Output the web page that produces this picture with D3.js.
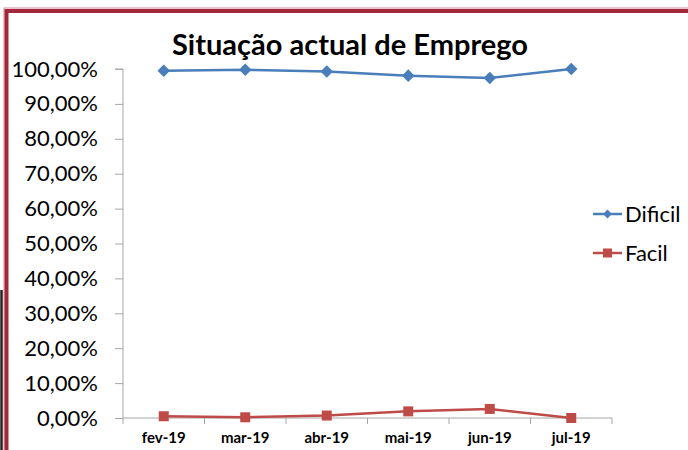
<!DOCTYPE html>
<html>
<head>
<meta charset="utf-8">
<script src="https://cdn.jsdelivr.net/npm/d3@7"></script>
<style>
  body { margin: 0; background: #fff; }
  svg { display: block; font-family: Lato, "Open Sans", sans-serif; }
</style>
</head>
<body>
<div id="chart"></div>
<script>
// data
var months = ["fev-19", "mar-19", "abr-19", "mai-19", "jun-19", "jul-19"];
var dificil = [0.995, 0.998, 0.993, 0.981, 0.974, 1.0];
var facil = [0.005, 0.002, 0.007, 0.019, 0.026, 0.0];
var yTicks = [0, 0.1, 0.2, 0.3, 0.4, 0.5, 0.6, 0.7, 0.8, 0.9, 1.0];
var seriesNames = ["Dificil", "Facil"];
var colors = ["#4a7ebb", "#be4b48"];

var W = 688, H = 450;
var svg = d3.select("#chart").append("svg")
    .attr("width", W)
    .attr("height", H);

// frame of the slide
svg.append("line").attr("x1", 1.5).attr("x2", 1.5).attr("y1", 290).attr("y2", H)
    .attr("stroke", "#222").attr("stroke-width", 2.5);
svg.append("rect").attr("x", 4).attr("y", 8).attr("width", W + 10).attr("height", H + 10)
    .attr("fill", "none").attr("stroke", "#d98a98").attr("stroke-width", 1);
svg.append("rect").attr("x", 6.5).attr("y", 11).attr("width", W + 10).attr("height", H + 10)
    .attr("fill", "none").attr("stroke", "#a4283b").attr("stroke-width", 4);

var plotLeft = 123, plotRight = 612, plotTop = 69, plotBottom = 418;

var x = d3.scaleBand().domain(months).range([plotLeft, plotRight]);
var y = d3.scaleLinear().domain([0, 1]).range([plotBottom, plotTop]);

// title
svg.append("text")
    .attr("x", 350).attr("y", 55)
    .attr("text-anchor", "middle")
    .style("font-size", "29px").style("font-weight", "bold")
    .attr("fill", "#000")
    .text("Situação actual de Emprego");

// y axis
var fmt = function(d) { return d3.format(".2f")(d * 100).replace(".", ",") + "%"; };
var yAxis = svg.append("g")
    .attr("transform", "translate(" + plotLeft + ",0)")
    .call(d3.axisLeft(y).tickValues(yTicks).tickFormat(fmt).tickSize(8).tickPadding(17));
yAxis.attr("font-family", null).attr("font-size", null);
yAxis.select(".domain").attr("stroke", "#a6a6a6").attr("d", "M-8," + plotTop + "H0V" + plotBottom);
yAxis.selectAll(".tick line").attr("stroke", "#a6a6a6");
yAxis.selectAll(".tick text").style("font-size", "22px").attr("fill", "#000");

// x axis
var xAxis = svg.append("g")
    .attr("transform", "translate(0," + plotBottom + ")")
    .call(d3.axisBottom(x).tickSize(0).tickPadding(14));
xAxis.attr("font-family", null).attr("font-size", null);
xAxis.select(".domain").attr("stroke", "#a6a6a6").attr("d", "M" + plotLeft + ",0H" + plotRight);
xAxis.selectAll(".tick text").style("font-size", "15px").style("font-weight", "bold")
    .attr("fill", "#000");
xAxis.selectAll(".sep").data(months.concat(["end"])).enter().append("line")
    .attr("x1", function(d, i) { return plotLeft + i * x.bandwidth(); })
    .attr("x2", function(d, i) { return plotLeft + i * x.bandwidth(); })
    .attr("y1", 0).attr("y2", 6)
    .attr("stroke", "#a6a6a6");

var cx = function(d, i) { return x(months[i]) + x.bandwidth() / 2; };
var line = d3.line().x(cx).y(function(d) { return y(d); });

[dificil, facil].forEach(function(vals, k) {
  svg.append("path").datum(vals)
      .attr("fill", "none")
      .attr("stroke", colors[k])
      .attr("stroke-width", 2.5)
      .attr("d", line);
});

// markers
var diamond = d3.symbol().type(d3.symbolDiamond2).size(100);
svg.selectAll(".dmark").data(dificil).enter().append("path")
    .attr("transform", function(d, i) { return "translate(" + cx(d, i) + "," + y(d) + ")"; })
    .attr("d", diamond)
    .attr("fill", colors[0]);
svg.selectAll(".smark").data(facil).enter().append("rect")
    .attr("x", function(d, i) { return cx(d, i) - 5; })
    .attr("y", function(d) { return y(d) - 5; })
    .attr("width", 10).attr("height", 10)
    .attr("fill", colors[1]);

// legend
var legend = svg.append("g");
seriesNames.forEach(function(name, k) {
  var ly = 214 + k * 39;
  legend.append("line").attr("x1", 593).attr("x2", 622).attr("y1", ly).attr("y2", ly)
      .attr("stroke", colors[k]).attr("stroke-width", 2.5);
  if (k === 0) {
    legend.append("path").attr("transform", "translate(607.5," + ly + ")")
        .attr("d", d3.symbol().type(d3.symbolDiamond2).size(50)).attr("fill", colors[k]);
  } else {
    legend.append("rect").attr("x", 603).attr("y", ly - 4.5).attr("width", 9).attr("height", 9)
        .attr("fill", colors[k]);
  }
  legend.append("text").attr("x", 625).attr("y", ly + 8)
      .style("font-size", "22px").attr("fill", "#000")
      .text(name);
});
</script>
</body>
</html>
